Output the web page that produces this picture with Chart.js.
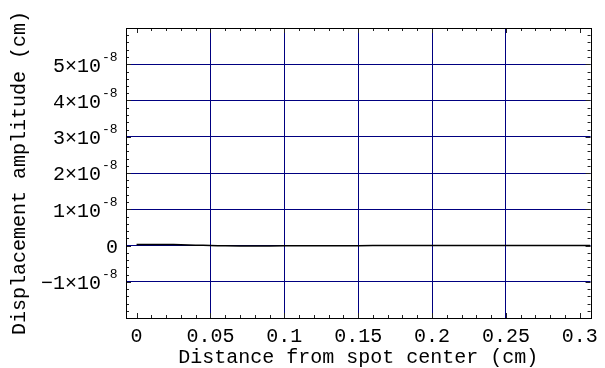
<!DOCTYPE html>
<html>
<head>
<meta charset="utf-8">
<script src="https://cdn.jsdelivr.net/npm/chart.js@4.4.1/dist/chart.umd.min.js"></script>
<style>
  body { margin: 0; background: #fff; }
</style>
</head>
<body>
<canvas id="myChart" width="605" height="368"></canvas>
<script>
// data
var distance = [0, 0.01, 0.02, 0.03, 0.04, 0.05, 0.06, 0.08, 0.1, 0.12, 0.14, 0.16, 0.18, 0.2, 0.22, 0.24, 0.26, 0.28, 0.3, 0.307]
var amplitude = [3e-10, 3e-10, 2.8e-10, 2.2e-10, 1e-10, 0, -0.8e-10, -1.2e-10, -1e-10, -0.8e-10, -0.5e-10, -0.3e-10, -0.2e-10, -0.1e-10, 0, 0, 0, 0, 0, 0]
var xTicks = [0, 0.05, 0.1, 0.15, 0.2, 0.25, 0.3]
var xLabels = ['0', '0.05', '0.1', '0.15', '0.2', '0.25', '0.3']
var yTicks = [-1e-8, 0, 1e-8, 2e-8, 3e-8, 4e-8, 5e-8]
var yMantissa = ['\u22121', '0', '1', '2', '3', '4', '5']

var mono = '"Liberation Mono", "DejaVu Sans Mono", monospace'
var gridColor = '#000080'

chart1()

function chart1() {
    const ctx = document.getElementById('myChart');

    // frame, inward ticks on all four sides and the y labels with exponents
    const framePlugin = {
        id: 'frame',
        afterDatasetsDraw(chart) {
            const c = chart.ctx;
            const a = chart.chartArea;
            const xs = chart.scales.x;
            const ys = chart.scales.y;
            c.save();
            c.strokeStyle = '#222';
            c.lineWidth = 1;
            c.beginPath();
            // x ticks every 0.01, major every 0.05
            for (let i = 0; i <= 30; i++) {
                const px = Math.round(xs.getPixelForValue(i / 100)) + 0.5;
                const len = i % 5 === 0 ? 5 : 3;
                c.moveTo(px, a.bottom); c.lineTo(px, a.bottom - len);
                c.moveTo(px, a.top); c.lineTo(px, a.top + len);
            }
            // y ticks every 0.2e-8, major every 1e-8
            for (let i = -10; i <= 30; i++) {
                const py = Math.round(ys.getPixelForValue(i * 0.2e-8)) + 0.5;
                const len = i % 5 === 0 ? 5 : 3;
                c.moveTo(a.left, py); c.lineTo(a.left + len, py);
                c.moveTo(a.right, py); c.lineTo(a.right - len, py);
            }
            c.stroke();
            c.strokeStyle = '#000';
            c.strokeRect(Math.round(a.left) + 0.5, Math.round(a.top) + 0.5,
                Math.round(a.right - a.left), Math.round(a.bottom - a.top));

            c.fillStyle = '#000';
            c.textBaseline = 'middle';
            yTicks.forEach(function (v, i) {
                const py = ys.getPixelForValue(v) + 2;
                if (v === 0) {
                    c.font = '20px ' + mono;
                    c.textAlign = 'right';
                    c.fillText('0', 118, py);
                    return;
                }
                c.font = '20px ' + mono;
                c.textAlign = 'right';
                c.fillText(yMantissa[i] + '\u00d710', 101, py);
                c.font = '13px ' + mono;
                c.textAlign = 'left';
                c.fillText('-8', 102, py - 9);
            });
            c.restore();
        }
    };

    new Chart(ctx, {
        type: 'line',
        data: {
            datasets: [{
                label: 'Displacement amplitude',
                data: distance.map(function (d, i) { return { x: d, y: amplitude[i] }; }),
                borderColor: '#000',
                borderWidth: 1.5,
                pointRadius: 0,
                tension: 0.3,
                fill: false
            }]
        },
        options: {
            responsive: false,
            animation: false,
            layout: { padding: { top: 28, right: 9, left: 0, bottom: 0 } },
            plugins: {
                legend: { display: false },
                tooltip: { enabled: false }
            },
            scales: {
                x: {
                    type: 'linear',
                    min: -0.00715,
                    max: 0.3073,
                    afterBuildTicks: function (s) { s.ticks = xTicks.map(function (v) { return { value: v }; }); },
                    afterFit: function (s) { s.height = 50; },
                    border: { display: false },
                    grid: {
                        drawTicks: false,
                        lineWidth: 1,
                        color: function (c) {
                            const v = c.tick ? c.tick.value : null;
                            return (v === 0 || v === 0.3) ? 'rgba(0,0,0,0)' : gridColor;
                        }
                    },
                    ticks: {
                        autoSkip: false,
                        maxRotation: 0,
                        padding: 7,
                        color: '#000',
                        font: { family: mono, size: 20 },
                        callback: function (v, i) { return xLabels[i]; }
                    },
                    title: {
                        display: true,
                        text: 'Distance from spot center (cm)',
                        color: '#000',
                        font: { family: mono, size: 20, lineHeight: 1 },
                        padding: { top: -1, bottom: 0 }
                    }
                },
                y: {
                    type: 'linear',
                    min: -2e-8,
                    max: 6e-8,
                    afterBuildTicks: function (s) { s.ticks = yTicks.map(function (v) { return { value: v }; }); },
                    afterFit: function (s) { s.width = 126; },
                    border: { display: false },
                    grid: { drawTicks: false, lineWidth: 1, color: gridColor },
                    ticks: { display: false },
                    title: {
                        display: true,
                        text: 'Displacement amplitude (cm)',
                        color: '#000',
                        font: { family: mono, size: 20, lineHeight: 1 },
                        padding: { top: 10, bottom: 0 }
                    }
                }
            }
        },
        plugins: [framePlugin]
    });
}
</script>
</body>
</html>
